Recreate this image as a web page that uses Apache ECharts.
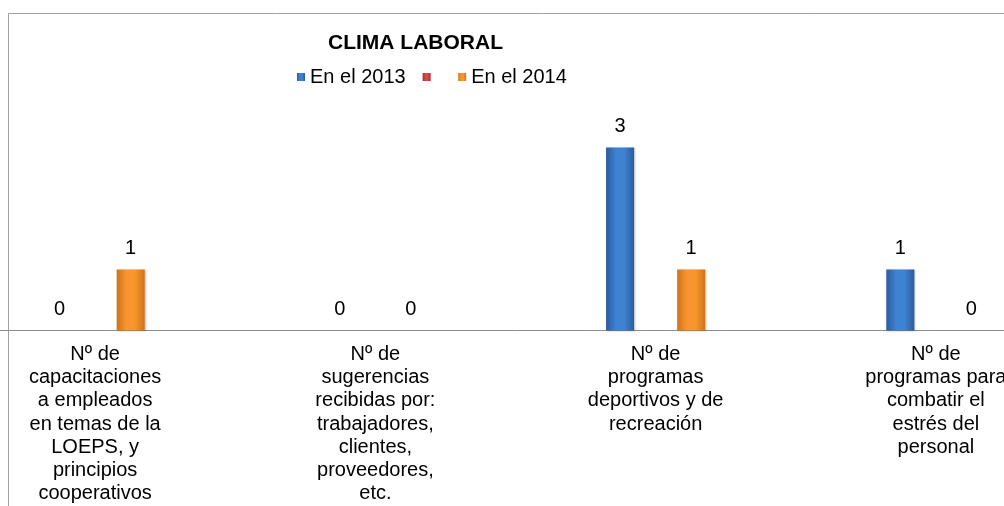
<!DOCTYPE html>
<html>
<head>
<meta charset="utf-8">
<script src="https://cdn.jsdelivr.net/npm/echarts@6/dist/echarts.min.js"></script>
<style>
  html, body { margin: 0; padding: 0; background: #fff; overflow: hidden; width: 1004px; height: 506px; position: relative; }
  /* el gráfico original está recortado por los lados: el área es más ancha que la ventana */
  #chart { position: absolute; left: -45px; top: 0; width: 1121px; height: 506px; }
</style>
</head>
<body>
<div id="chart"></div>
<script>
// datos del gráfico
var categorias = [
  'Nº de\ncapacitaciones\na empleados\nen temas de la\nLOEPS, y\nprincipios\ncooperativos',
  'Nº de\nsugerencias\nrecibidas por:\ntrabajadores,\nclientes,\nproveedores,\netc.',
  'Nº de\nprogramas\ndeportivos y de\nrecreación',
  'Nº de\nprogramas para\ncombatir el\nestrés del\npersonal'
];
var en2013 = [0, 0, 3, 1];
var sinNombre = [null, null, null, null]; // serie vacía (solo aparece en la leyenda)
var en2014 = [1, 0, 1, 0];

var nombreVacio = ' ';
var dx = 45; // desplazamiento del div

var fuente = 'Liberation Sans, Arial, sans-serif';

function degradado(borde, centro) {
  return new echarts.graphic.LinearGradient(0, 0, 1, 0, [
    { offset: 0, color: borde },
    { offset: 0.35, color: centro },
    { offset: 0.65, color: centro },
    { offset: 1, color: borde }
  ]);
}

var azul = degradado('#2a5c9c', '#3f82d2');
var rojo = degradado('#a82a2a', '#d24a4a');
var naranja = degradado('#d07418', '#f8952e');

var etiqueta = {
  show: true,
  position: 'top',
  distance: 11,
  color: '#000',
  fontFamily: fuente,
  fontSize: 20,
  lineHeight: 20
};

var chart = echarts.init(document.getElementById('chart'));

var option = {
  animation: false,
  title: {
    text: 'CLIMA LABORAL',
    left: 323 + dx,
    top: 28,
    textStyle: {
      fontFamily: fuente,
      fontWeight: 'bold',
      fontSize: 21,
      color: '#000'
    }
  },
  legend: {
    left: 292 + dx,
    top: 62,
    itemWidth: 8,
    itemHeight: 8,
    itemGap: 17,
    icon: 'rect',
    data: ['En el 2013', nombreVacio, 'En el 2014'],
    textStyle: {
      fontFamily: fuente,
      fontSize: 20,
      color: '#000'
    }
  },
  graphic: [
    { type: 'line', shape: { x1: 8.5 + dx, y1: 13.5, x2: 1121, y2: 13.5 }, style: { stroke: '#a0a0a0', lineWidth: 1 } },
    { type: 'line', shape: { x1: 8.5 + dx, y1: 13.5, x2: 8.5 + dx, y2: 506 }, style: { stroke: '#a0a0a0', lineWidth: 1 } }
  ],
  grid: {
    left: 0,
    right: 0,
    top: 86.5,
    bottom: 175.5,
    containLabel: false
  },
  xAxis: {
    type: 'category',
    data: categorias,
    axisTick: { show: false },
    axisLine: { lineStyle: { color: '#8c8c8c', width: 1 } },
    axisLabel: {
      interval: 0,
      margin: 12,
      color: '#000',
      fontFamily: fuente,
      fontSize: 20,
      lineHeight: 23.3,
      align: 'center'
    }
  },
  yAxis: {
    type: 'value',
    min: 0,
    max: 4,
    interval: 1,
    show: false,
    splitLine: { show: false }
  },
  series: [
    {
      name: 'En el 2013',
      type: 'bar',
      data: en2013,
      barWidth: 28,
      barGap: '27%',
      itemStyle: { color: azul, shadowColor: 'rgba(0,0,0,0.25)', shadowBlur: 2, shadowOffsetX: 1, shadowOffsetY: 0 },
      label: etiqueta
    },
    {
      name: nombreVacio,
      type: 'bar',
      data: sinNombre,
      barWidth: 28,
      barGap: '27%',
      itemStyle: { color: rojo },
      label: { show: false }
    },
    {
      name: 'En el 2014',
      type: 'bar',
      data: en2014,
      barWidth: 28,
      barGap: '27%',
      itemStyle: { color: naranja, shadowColor: 'rgba(0,0,0,0.25)', shadowBlur: 2, shadowOffsetX: 1, shadowOffsetY: 0 },
      label: etiqueta
    }
  ]
};

chart.setOption(option);
</script>
</body>
</html>
